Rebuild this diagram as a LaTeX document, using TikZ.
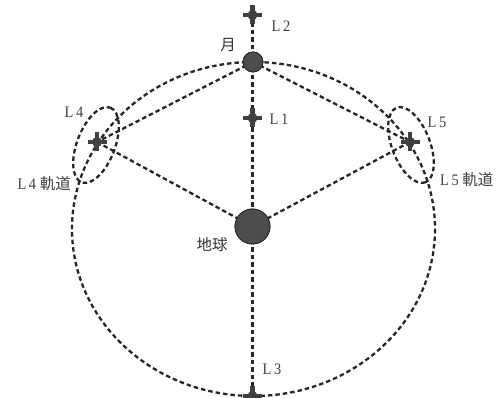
\documentclass[tikz,border=0pt]{standalone}
\usepackage{fontspec}
\setmainfont{Liberation Serif}
\newfontfamily\lfont[FakeStretch=0.9]{Liberation Serif}
\newfontfamily\jpfont{Noto Sans CJK JP}
\begin{document}
\begin{tikzpicture}[x=1pt,y=-1pt,
  dl/.style={draw=black!85, line width=2.3pt, dash pattern=on 4.5pt off 3pt},
  body/.style={circle, fill=black!70, draw=black!85, line width=0.8pt, inner sep=0pt},
  lbl/.style={font=\lfont\fontsize{16}{18}\selectfont, text=black!75, inner sep=1pt},
  jlbl/.style={font=\jpfont\fontsize{15.5}{18}\selectfont, text=black!80, inner sep=1pt},
  lagr/.pic={
    \draw[black!75, line width=4.6pt] (0,-9.5) -- (0,9.5) (-9.5,0) -- (9.5,0);
    \fill[black!75] (0,0) circle (5);
  }]
\useasboundingbox (0,0) rectangle (499,398);
% positions
\coordinate (C) at (253.5,229);
\node[body, minimum size=35pt] (earth) at (252.5,226.5) {};
\node[body, minimum size=20pt] (moon) at (253,62) {};
\coordinate (L1) at (252.5,118);
\coordinate (L2) at (252.5,15);
\coordinate (L3) at (252.5,396);
\coordinate (L4) at (97,142);
\coordinate (L5) at (410,142);
% dashed structure (behind)
\draw[dl] (C) ellipse [x radius=181.5, y radius=167];
\draw[dl] (L2) -- (L3);
\draw[dl] (moon.center) -- (L4);
\draw[dl] (moon.center) -- (L5);
\draw[dl] (L4) -- (earth.center);
\draw[dl] (L5) -- (earth.center);
\draw[dl] (96,145) ellipse [x radius=40, y radius=19, rotate=69];
\draw[dl] (411,145) ellipse [x radius=40, y radius=19, rotate=-69];
% bodies on top
\node[body, minimum size=35pt] at (earth) {};
\node[body, minimum size=20pt] at (moon) {};
\pic at (L1) {lagr};
\pic at (L2) {lagr};
\pic at (L3) {lagr};
\pic at (L4) {lagr};
\pic at (L5) {lagr};
% labels
\node[jlbl] (tmoon) at (228,45) {月};
\node[jlbl] (tearth) at (212,245) {地球};
\node[lbl] (t2) at (281,26) {L\,2};
\node[lbl] (t1) at (279,119) {L\,1};
\node[lbl] (t3) at (272,369) {L\,3};
\node[lbl] (t4) at (74,112) {L\,4};
\node[lbl] (t5) at (437,122) {L\,5};
\node[lbl, anchor=east] (t4o) at (72,184) {L\,4 {\jpfont\fontsize{15.5}{18}\selectfont 軌道}};
\node[lbl, anchor=west] (t5o) at (439,180) {L\,5 {\jpfont\fontsize{15.5}{18}\selectfont 軌道}};
\end{tikzpicture}
\end{document}
